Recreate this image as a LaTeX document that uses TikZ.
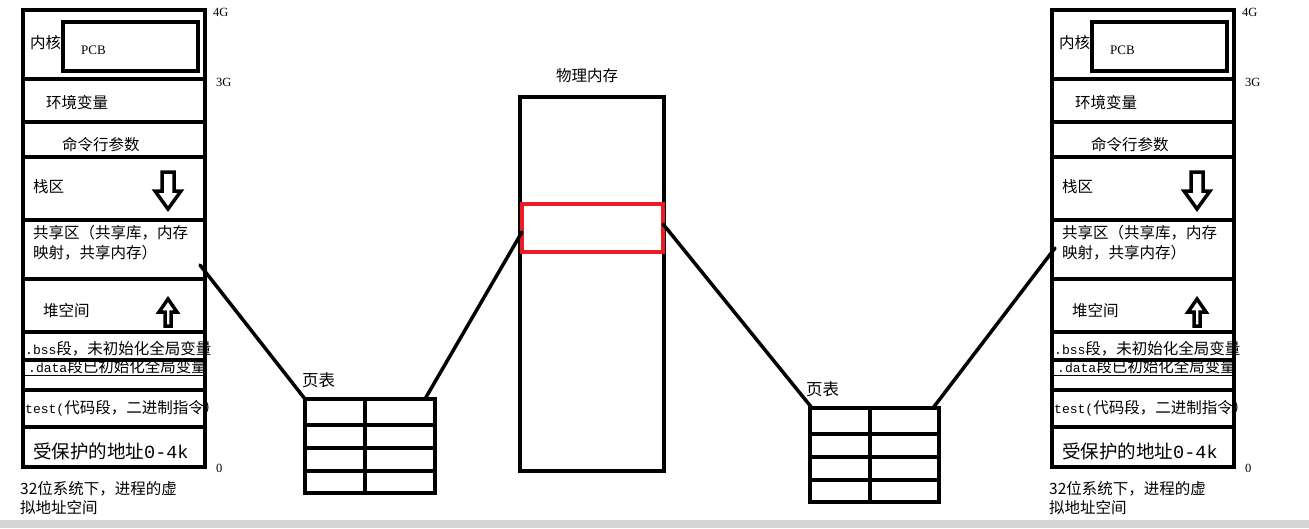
\documentclass[tikz,border=0pt]{standalone}
\usepackage{fontspec}
\setmainfont{Noto Sans CJK SC}
\newfontfamily\asciimono{Liberation Mono}[Scale=0.84]
\newfontfamily\asciimonofull{Liberation Mono}
\newfontfamily\asciiserif{Liberation Serif}
\usetikzlibrary{calc}
\definecolor{mydark}{RGB}{0,0,0}
\definecolor{myred}{RGB}{237,28,36}
\definecolor{mybar}{RGB}{212,212,212}
\tikzset{
  membox/.style={rectangle, draw=mydark, line width=4pt,
    inner sep=0pt, outer sep=0pt},
  divider/.style={line width=4pt, color=mydark},
  thinline/.style={line width=1pt, color=mydark},
  hollowarrow/.style={line width=3.5pt, color=mydark, line join=miter},
  link/.style={line width=3.5pt, color=mydark, line cap=round},
  lbl/.style={anchor=west, inner sep=0pt, font=\fontsize{15.5}{19}\selectfont},
  addr/.style={anchor=west, inner sep=0pt, font=\asciiserif\fontsize{12.5}{13}\selectfont}
}

\begin{document}
\begin{tikzpicture}[x=1pt, y=-1pt]
  \useasboundingbox (0,0) rectangle (1309,528);
  % screenshot bar
  \fill[mybar] (0,520) rectangle (1309,528);

  % virtual address spaces (left and right)
  \foreach \dx/\s in {0/L, 1029/R}{
    \begin{scope}[xshift=\dx pt]
      \node[membox, minimum width=182pt, minimum height=457pt] (vas\s) at (114,238.5) {};
      \node[membox, minimum width=135pt, minimum height=49pt] (pcb\s) at (130.5,46.5) {};
      \foreach \y in {79,122,157,220,279,332,360,390,427}
        \draw[divider] (23,\y) -- (205,\y);
      \draw[thinline] (25,375) -- (205,375);

      % growth arrows
      \draw[hollowarrow] (162,172) -- (174,172) -- (174,191) -- (181,191)
        -- (168,209) -- (155,191) -- (162,191) -- cycle;
      \draw[hollowarrow] (165,326) -- (171,326) -- (171,312) -- (177,312)
        -- (168,299) -- (159,312) -- (165,312) -- cycle;

      % segment labels
      \node[lbl] (kern\s) at (30,43) {内核};
      \node[addr, font=\asciiserif\fontsize{13}{14}\selectfont] (pcbtxt\s) at (81,50) {PCB};
      \node[lbl] (env\s) at (46,103) {环境变量};
      \node[lbl] (args\s) at (62,145) {命令行参数};
      \node[lbl] (stack\s) at (33,187) {栈区};
      \node[lbl] (shm\s) at (33,233) {共享区（共享库，内存};
      \node[lbl] (shmb\s) at (33,253) {映射，共享内存）};
      \node[lbl] (heap\s) at (43,311) {堆空间};
      \node[lbl] (bss\s) at (25,349) {{\asciimono .bss}段，未初始化全局变量};
      \node[lbl] (data\s) at (28,367) {{\asciimono .data}段已初始化全局变量};
      \node[lbl] (text\s) at (25,408) {{\asciimono test(}代码段，二进制指令）};
      \node[lbl, font=\fontsize{18.5}{20}\selectfont] (prot\s) at (33,451) {受保护的地址{\asciimonofull 0-4k}};

      % addresses
      \node[addr] (a4g\s) at (213,12) {4G};
      \node[addr] (a3g\s) at (216,82) {3G};
      \node[addr] (a0\s) at (216,468) {0};

      % caption
      \node[lbl, align=left] (cap\s) at (20,498) {32位系统下，进程的虚\\拟地址空间};
    \end{scope}
  }

  % page tables
  \node[membox, minimum width=130pt, minimum height=94pt] (pt1) at (370,446) {};
  \node[membox, minimum width=129pt, minimum height=94pt] (pt2) at (874.5,455) {};
  \foreach \p in {pt1, pt2}{
    \draw[divider] ($(\p.north west)+(60,0)$) -- ($(\p.south west)+(60,0)$);
    \foreach \r in {26,49,72}
      \draw[divider] ($(\p.north west)+(0,\r)$) -- ($(\p.north east)+(0,\r)$);
  }
  \node[lbl, font=\fontsize{16.5}{18}\selectfont] (pt1lbl) at (302,380) {页表};
  \node[lbl, font=\fontsize{16.5}{18}\selectfont] (pt2lbl) at (806,389) {页表};

  % physical memory
  \node[membox, minimum width=144pt, minimum height=374pt] (phys) at (592,284) {};
  \node[membox, draw=myred, minimum width=141pt, minimum height=48pt] (frame) at (592.5,228) {};
  \node[lbl, anchor=center] (physlbl) at (587,76) {物理内存};

  % mappings
  \coordinate (shL) at (200,265);
  \coordinate (shR) at (1055,248);
  \draw[link] (shL) -- (pt1.north west);
  \draw[link] ([xshift=-10pt]pt1.north east) -- ([yshift=-4pt]frame.west);
  \draw[link] ([yshift=4pt]frame.east) -- ([xshift=2pt]pt2.north west);
  \draw[link] ([xshift=-6pt]pt2.north east) -- (shR);
\end{tikzpicture}
\end{document}
